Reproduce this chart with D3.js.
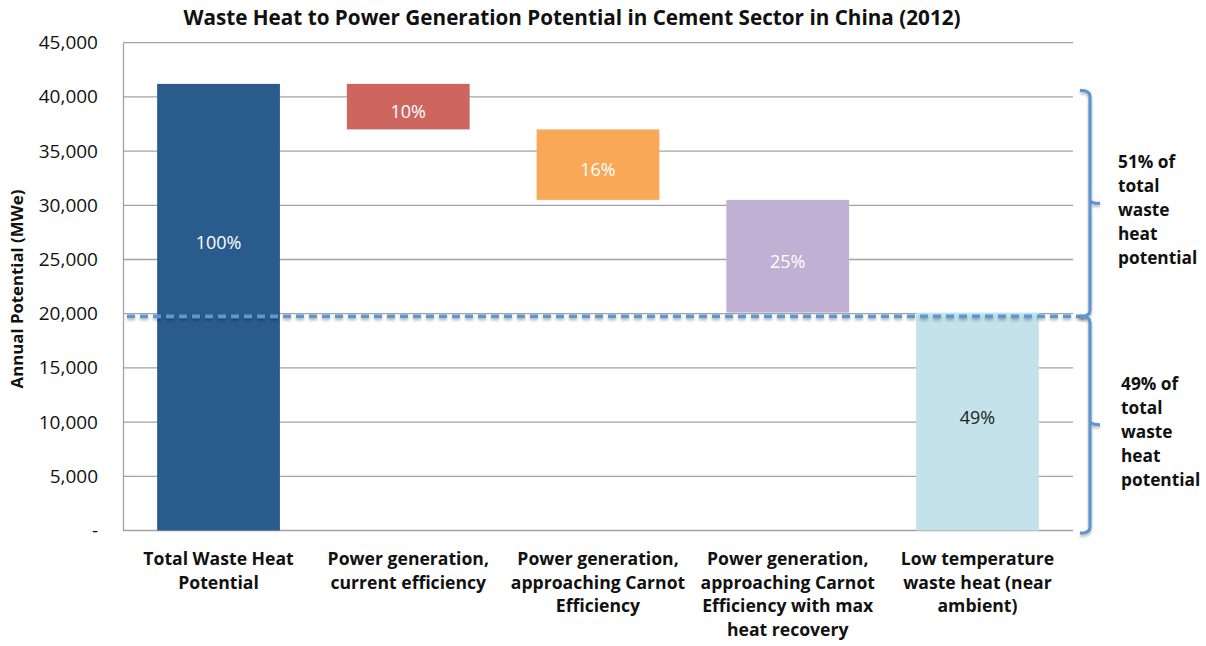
<!DOCTYPE html>
<html><head><meta charset="utf-8">
<script src="https://cdn.jsdelivr.net/npm/d3@7"></script>
<style>
body{margin:0;background:#fff;}
text{font-family:"Open Sans",sans-serif;}
</style></head>
<body><svg id="c" width="1206" height="646"></svg>
<script>
const categories = [
  ["Total Waste Heat","Potential"],
  ["Power generation,","current efficiency"],
  ["Power generation,","approaching Carnot","Efficiency"],
  ["Power generation,","approaching Carnot","Efficiency with max","heat recovery"],
  ["Low temperature","waste heat (near","ambient)"]
];
const values = [41200, 4200, 6500, 10400, 20100];
const pctLabels = ["100%","10%","16%","25%","49%"];
const barColors = ["#295b8c","#cd665f","#f9a857","#c0b0d3","#c3e2ea"];
const labelColors = ["#ffffff","#ffffff","#ffffff","#ffffff","#222222"];
const yTicks = [0,5000,10000,15000,20000,25000,30000,35000,40000,45000];
const dividerValue = 19750;
const braceRanges = [[40600, 19750],[19750, -250]];
const braceTexts = [["51% of","total","waste","heat","potential"],["49% of","total","waste","heat","potential"]];

// waterfall segments
const segs = [];
let running = 0;
values.forEach((v,i)=>{
  if(i===0){ segs.push([0,v]); running=v; }
  else if(i===values.length-1){ segs.push([0,v]); }
  else { segs.push([running-v, running]); running -= v; }
});

const svg = d3.select("#c");
const L=123, R=1073, T=42.7, B=530.5;
const x = d3.scaleBand().domain(d3.range(5)).range([L,R]).paddingInner(0.353).paddingOuter(0.18);
const y = d3.scaleLinear().domain([0,45000]).range([B,T]);

// defs shadow
const defs = svg.append("defs");
const f = defs.append("filter").attr("id","sh").attr("filterUnits","userSpaceOnUse")
  .attr("x",0).attr("y",0).attr("width",1206).attr("height",646);
f.append("feGaussianBlur").attr("in","SourceAlpha").attr("stdDeviation",1.5).attr("result","b");
f.append("feOffset").attr("in","b").attr("dy",2).attr("result","o");
f.append("feComponentTransfer").attr("in","o").attr("result","o2").append("feFuncA").attr("type","linear").attr("slope",0.3);
const fm = f.append("feMerge"); fm.append("feMergeNode").attr("in","o2"); fm.append("feMergeNode").attr("in","SourceGraphic");

// gridlines
svg.append("g").selectAll("line").data(yTicks.filter(d=>d>0)).join("line")
  .attr("x1",L).attr("x2",R).attr("y1",d=>y(d)).attr("y2",d=>y(d))
  .attr("stroke","#a3a3a3").attr("stroke-width",1.3);

// axis
const yAxis = d3.axisLeft(y).tickValues(yTicks).tickSize(0).tickPadding(25)
  .tickFormat(d=> d===0 ? "-" : d3.format(",")(d));
const ga = svg.append("g").attr("transform",`translate(${L},0)`).call(yAxis);
ga.select(".domain").attr("stroke","#a3a3a3").attr("stroke-width",1.3);
ga.selectAll("text").attr("font-size",19).attr("fill","#111").attr("font-family","'Open Sans',sans-serif");
svg.append("line").attr("x1",L).attr("x2",R).attr("y1",B).attr("y2",B).attr("stroke","#a3a3a3").attr("stroke-width",1.3);

// bars
svg.append("g").selectAll("rect").data(segs).join("rect")
  .attr("x",(d,i)=>x(i)).attr("width",x.bandwidth())
  .attr("y",d=>y(d[1])).attr("height",d=>y(d[0])-y(d[1]))
  .attr("fill",(d,i)=>barColors[i]);

// labels
svg.append("g").selectAll("text").data(segs).join("text")
  .attr("x",(d,i)=>x(i)+x.bandwidth()/2)
  .attr("y",(d,i)=> i===0 ? y(d[1]*0.645) : y((d[0]+d[1])/2)+(i===4?-4:5))
  .attr("dy","0.35em").attr("text-anchor","middle").attr("font-size",18)
  .attr("fill",(d,i)=>labelColors[i]).text((d,i)=>pctLabels[i]);

// category labels
const cg = svg.append("g");
categories.forEach((lines,i)=>{
  const t = cg.append("text").attr("text-anchor","middle").attr("font-size",17.6).attr("font-weight","bold").attr("fill","#111");
  lines.forEach((ln,j)=>t.append("tspan").attr("x",x(i)+x.bandwidth()/2).attr("y",565+j*23.5).text(ln));
});

// divider dashed line
svg.append("line").attr("x1",L+4).attr("x2",1088).attr("y1",y(dividerValue)).attr("y2",y(dividerValue))
  .attr("stroke","#5f96d0").attr("stroke-width",3.8).attr("stroke-dasharray","8,5").attr("filter","url(#sh)");

// braces
const bx = 1090;
braceRanges.forEach((r,k)=>{
  const y0=y(r[0]), y1=y(r[1]), ym=(y0+y1)/2;
  const p = d3.path();
  p.moveTo(bx-10,y0); p.quadraticCurveTo(bx,y0,bx,y0+6);
  p.lineTo(bx,ym-4); p.quadraticCurveTo(bx,ym,bx+10,ym);
  p.moveTo(bx,ym-4); p.quadraticCurveTo(bx,ym,bx,ym+4);
  p.lineTo(bx,y1-6); p.quadraticCurveTo(bx,y1,bx-10,y1);
  svg.append("path").attr("d",p.toString()).attr("fill","none").attr("stroke","#5f96d0").attr("stroke-width",3.2).attr("filter","url(#sh)");
  const t = svg.append("text").attr("font-size",17.3).attr("font-weight","bold").attr("fill","#111");
  braceTexts[k].forEach((ln,j)=>t.append("tspan").attr("x",bx+28+k*3).attr("y",ym-35+j*24).text(ln));
});

// title
svg.append("text").attr("x",572).attr("y",25).attr("text-anchor","middle").attr("font-size",20.7).attr("font-weight","bold").attr("fill","#111")
  .text("Waste Heat to Power Generation Potential in Cement Sector in China (2012)");
// y title
svg.append("text").attr("transform","translate(23,289) rotate(-90)").attr("text-anchor","middle").attr("font-size",16.8).attr("font-weight","bold").attr("fill","#111")
  .text("Annual Potential (MWe)");
</script></body></html>
